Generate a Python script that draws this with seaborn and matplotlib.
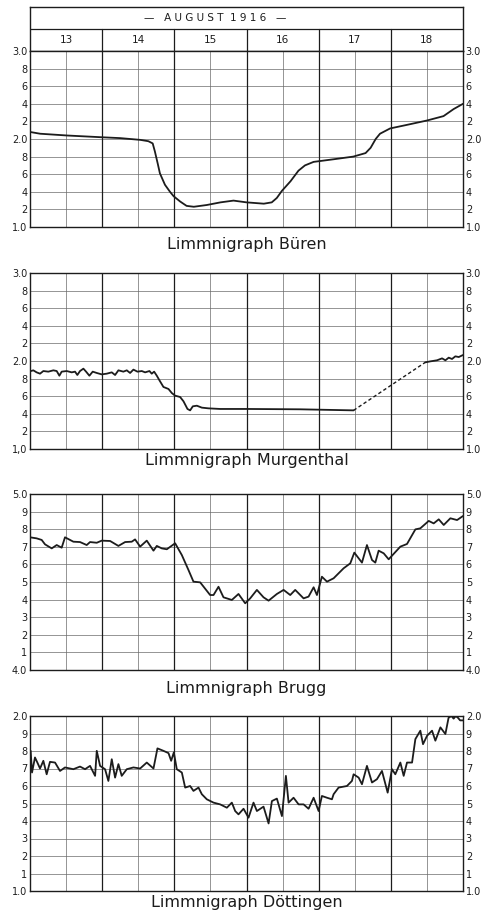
import matplotlib
matplotlib.use("Agg")
import matplotlib.pyplot as plt
import pandas as pd
import seaborn as sns

# --- data (days of August 1916, gauge readings) ---
days = [13, 14, 15, 16, 17, 18]
header_text = "—   A U G U S T  1 9 1 6   —"

buren_t = [13.00, 13.14, 13.51, 13.99, 14.25, 14.53, 14.64, 14.70, 14.73, 14.77,
           14.80, 14.87, 14.94, 14.99, 15.08, 15.17, 15.27, 15.45, 15.64, 15.82,
           16.00, 16.24, 16.35, 16.42, 16.49, 16.61, 16.72, 16.81, 16.93, 17.21,
           17.48, 17.65, 17.72, 17.79, 17.85, 17.99, 18.22, 18.50, 18.73, 18.87, 19.00]
buren_v = [2.08, 2.06, 2.04, 2.02, 2.01, 1.99, 1.975, 1.95, 1.86, 1.72,
           1.61, 1.48, 1.40, 1.35, 1.29, 1.24, 1.23, 1.25, 1.28, 1.30,
           1.28, 1.265, 1.28, 1.33, 1.41, 1.52, 1.64, 1.70, 1.74, 1.77,
           1.80, 1.84, 1.90, 2.00, 2.06, 2.12, 2.16, 2.21, 2.26, 2.34, 2.40]

murg_t = [13.000, 13.046, 13.092, 13.139, 13.185, 13.254, 13.324, 13.370, 13.407, 13.439,
          13.509, 13.578, 13.624, 13.656, 13.693, 13.740, 13.777, 13.823, 13.869, 13.925,
          13.994, 14.063, 14.133, 14.179, 14.225, 14.294, 14.341, 14.387, 14.433, 14.489,
          14.549, 14.595, 14.655, 14.687, 14.720, 14.757, 14.794, 14.849, 14.919, 14.965,
          15.011, 15.080, 15.127, 15.182, 15.219, 15.256, 15.312, 15.381, 15.473, 15.635,
          16.005, 16.745, 17.484]
murg_v = [1.883, 1.894, 1.871, 1.856, 1.886, 1.879, 1.894, 1.886, 1.833, 1.879,
          1.886, 1.871, 1.879, 1.841, 1.886, 1.913, 1.879, 1.833, 1.879, 1.864,
          1.848, 1.856, 1.871, 1.841, 1.894, 1.879, 1.894, 1.864, 1.902, 1.879,
          1.886, 1.871, 1.886, 1.856, 1.879, 1.833, 1.780, 1.705, 1.682, 1.636,
          1.606, 1.591, 1.542, 1.455, 1.439, 1.485, 1.492, 1.470, 1.462, 1.455,
          1.455, 1.451, 1.439]
murg_gap_t = [17.484, 18.478]
murg_gap_v = [1.439, 1.985]
murg_end_t = [18.478, 18.548, 18.640, 18.710, 18.756, 18.802, 18.848, 18.894, 18.941, 19.000]
murg_end_v = [1.985, 1.996, 2.008, 2.030, 2.008, 2.038, 2.023, 2.053, 2.045, 2.068]

brugg_t = [13.000, 13.092, 13.162, 13.208, 13.301, 13.370, 13.439, 13.485, 13.601, 13.693,
           13.786, 13.832, 13.925, 13.994, 14.110, 14.225, 14.318, 14.410, 14.456, 14.526,
           14.618, 14.711, 14.757, 14.826, 14.896, 15.011, 15.104, 15.196, 15.265, 15.358,
           15.496, 15.543, 15.612, 15.681, 15.797, 15.889, 15.982, 16.051, 16.144, 16.236,
           16.306, 16.421, 16.514, 16.606, 16.675, 16.791, 16.860, 16.930, 16.976, 17.045,
           17.115, 17.207, 17.346, 17.438, 17.494, 17.600, 17.669, 17.739, 17.785, 17.831,
           17.901, 17.970, 18.132, 18.224, 18.340, 18.409, 18.525, 18.594, 18.664, 18.733,
           18.825, 18.918, 19.000]
brugg_v = [4.754, 4.748, 4.739, 4.714, 4.691, 4.710, 4.695, 4.754, 4.729, 4.727,
           4.710, 4.727, 4.723, 4.735, 4.733, 4.705, 4.727, 4.729, 4.742, 4.701,
           4.735, 4.678, 4.705, 4.691, 4.686, 4.720, 4.653, 4.568, 4.502, 4.498,
           4.426, 4.426, 4.473, 4.413, 4.398, 4.432, 4.379, 4.407, 4.455, 4.413,
           4.394, 4.432, 4.455, 4.426, 4.455, 4.407, 4.417, 4.470, 4.426, 4.530,
           4.502, 4.521, 4.578, 4.606, 4.667, 4.610, 4.710, 4.625, 4.610, 4.678,
           4.663, 4.629, 4.701, 4.716, 4.799, 4.805, 4.847, 4.833, 4.856, 4.824,
           4.862, 4.852, 4.875]

doett_t = [13.000, 13.009, 13.028, 13.069, 13.102, 13.139, 13.185, 13.231, 13.277, 13.347,
           13.416, 13.485, 13.601, 13.693, 13.763, 13.832, 13.902, 13.925, 13.971, 14.040,
           14.086, 14.133, 14.179, 14.225, 14.271, 14.341, 14.433, 14.526, 14.618, 14.711,
           14.766, 14.849, 14.919, 14.956, 14.993, 15.034, 15.104, 15.150, 15.219, 15.265,
           15.335, 15.381, 15.450, 15.543, 15.635, 15.728, 15.797, 15.843, 15.889, 15.959,
           16.028, 16.097, 16.144, 16.236, 16.306, 16.352, 16.421, 16.491, 16.546, 16.583,
           16.652, 16.722, 16.791, 16.860, 16.930, 16.999, 17.045, 17.115, 17.184, 17.207,
           17.276, 17.392, 17.461, 17.484, 17.554, 17.600, 17.669, 17.739, 17.808, 17.877,
           17.956, 18.016, 18.062, 18.132, 18.178, 18.224, 18.294, 18.340, 18.409, 18.446,
           18.502, 18.571, 18.617, 18.687, 18.756, 18.800, 18.840, 18.870, 18.900, 18.930,
           18.960, 19.000]
doett_v = [1.696, 1.801, 1.677, 1.763, 1.734, 1.700, 1.744, 1.667, 1.738, 1.734,
           1.686, 1.706, 1.696, 1.711, 1.696, 1.715, 1.658, 1.801, 1.715, 1.696,
           1.629, 1.753, 1.648, 1.725, 1.658, 1.696, 1.706, 1.700, 1.734, 1.700,
           1.815, 1.801, 1.788, 1.744, 1.792, 1.696, 1.677, 1.591, 1.600, 1.572,
           1.591, 1.553, 1.524, 1.505, 1.495, 1.476, 1.505, 1.457, 1.438, 1.470,
           1.419, 1.505, 1.457, 1.482, 1.386, 1.514, 1.528, 1.428, 1.658, 1.505,
           1.533, 1.495, 1.495, 1.470, 1.533, 1.457, 1.543, 1.533, 1.524, 1.553,
           1.591, 1.600, 1.629, 1.667, 1.648, 1.610, 1.715, 1.620, 1.639, 1.686,
           1.562, 1.696, 1.667, 1.734, 1.658, 1.734, 1.734, 1.868, 1.916, 1.839,
           1.887, 1.916, 1.859, 1.935, 1.897, 1.990, 2.000, 1.985, 2.000, 1.990,
           1.975, 1.975]

labels_a = ["1.0", "2", "4", "6", "8", "2.0", "2", "4", "6", "8", "3.0"]
labels_b = ["4.0", "1", "2", "3", "4", "5", "6", "7", "8", "9", "5.0"]
labels_c = ["1.0", "1", "2", "3", "4", "5", "6", "7", "8", "9", "2.0"]

ink = "#1c1c1c"
grid = "#6a6a6a"

sns.set_style("white")
plt.rcParams["font.family"] = ["DejaVu Sans"]

fig = plt.figure(figsize=(4.85, 9.17), dpi=100)
W, H = 485, 917
x0, x1 = 30, 463


def axes_px(top, bottom):
    return fig.add_axes([x0 / W, 1 - bottom / H, (x1 - x0) / W, (bottom - top) / H])


def setup_panel(ax, lo, hi, left_labels, right_labels):
    ticks = [lo + (hi - lo) * i / 10 for i in range(11)]
    ax.set_xlim(13, 19)
    ax.set_ylim(lo, hi)
    for y in ticks[1:-1]:
        ax.axhline(y, color=grid, lw=0.5, zorder=1)
    for d in days[1:]:
        ax.axvline(d, color=ink, lw=0.9, zorder=1)
    for d in days:
        ax.axvline(d + 0.5, color=grid, lw=0.5, zorder=1)
    ax.set_xticks([])
    ax.set_yticks(ticks)
    ax.set_yticklabels(left_labels)
    ax.tick_params(axis="y", length=0, pad=2, labelsize=7, labelcolor=ink)
    ax.set_xlabel("")
    ax.set_ylabel("")
    for s in ax.spines.values():
        s.set_color(ink)
        s.set_linewidth(1.0)
    ax2 = ax.twinx()
    ax2.set_ylim(lo, hi)
    ax2.set_yticks(ticks)
    ax2.set_yticklabels(right_labels)
    ax2.tick_params(axis="y", length=0, pad=2, labelsize=7, labelcolor=ink)
    for s in ax2.spines.values():
        s.set_visible(False)


# header box with date
hax = axes_px(7, 51)
hax.set_xlim(13, 19)
hax.set_ylim(0, 2)
hax.axhline(1, color=ink, lw=0.9)
for d in days[1:]:
    hax.plot([d, d], [0, 1], color=ink, lw=0.9)
for d in days:
    hax.text(d + 0.5, 0.5, str(d), ha="center", va="center", fontsize=7.5, color=ink)
hax.text(15.56, 1.5, header_text, ha="center", va="center", fontsize=7.5, color=ink)
hax.set_xticks([])
hax.set_yticks([])
for s in hax.spines.values():
    s.set_color(ink)
    s.set_linewidth(1.0)

panels = [
    (51, 227, 244, "Limmnigraph Büren", 1.0, 3.0, labels_a, labels_a),
    (273, 449, 461, "Limmnigraph Murgenthal", 1.0, 3.0,
     ["1,0"] + labels_a[1:], labels_a),
    (494, 670, 688, "Limmnigraph Brugg", 4.0, 5.0, labels_b, labels_b),
    (716, 891, 902, "Limmnigraph Döttingen", 1.0, 2.0, labels_c, labels_c),
]
series = [
    [(buren_t, buren_v, "-")],
    [(murg_t, murg_v, "-"), (murg_gap_t, murg_gap_v, (0, (2.5, 1.8))),
     (murg_end_t, murg_end_v, "-")],
    [(brugg_t, brugg_v, "-")],
    [(doett_t, doett_v, "-")],
]

for (top, bottom, ty, title, lo, hi, ll, rl), lines in zip(panels, series):
    ax = axes_px(top, bottom)
    for t, v, ls in lines:
        df = pd.DataFrame({"t": t, "v": v})
        sns.lineplot(data=df, x="t", y="v", ax=ax, color=ink,
                     lw=1.0 if ls != "-" else 1.3, linestyle=ls, zorder=3,
                     estimator=None, sort=False)
    setup_panel(ax, lo, hi, ll, rl)
    fig.text((x0 + x1) / 2 / W, 1 - ty / H, title, ha="center", va="center",
             fontsize=11.5, color=ink)

fig.savefig("out.png", dpi=100, facecolor="white")
